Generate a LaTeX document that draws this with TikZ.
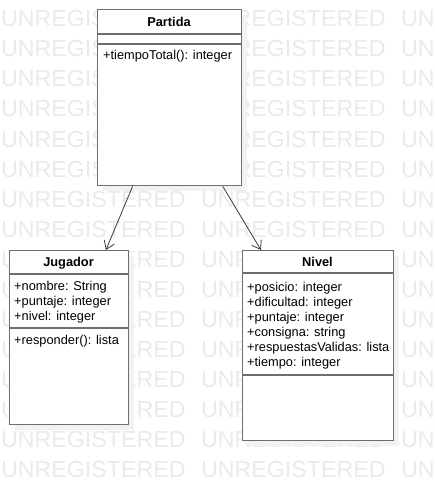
\documentclass[tikz,border=0pt]{standalone}
\usepackage{fontspec}
\setmainfont{Liberation Sans}
\usetikzlibrary{arrows.meta}
\definecolor{wmgray}{HTML}{EAEAEA}
\definecolor{boxline}{HTML}{6E6E6E}
\definecolor{shadowgray}{HTML}{F2F2F2}
\definecolor{arrline}{HTML}{3A3A3A}
\tikzset{
  umlbox/.style={draw=boxline, line width=1.4pt, fill=white, inner sep=0pt, anchor=north west},
  shadowbox/.style={fill=shadowgray, draw=none, inner sep=0pt, anchor=north west},
  sepline/.style={draw=boxline, line width=1.4pt},
  attr/.style={anchor=base west, inner sep=0pt, font=\fontsize{12.8}{15}\selectfont},
  ttl/.style={anchor=base, inner sep=0pt, font=\fontsize{12.8}{15}\selectfont\bfseries},
  wm/.style={anchor=base west, inner sep=0pt, text=wmgray, font=\fontsize{23.2}{28}\selectfont},
  arr/.style={draw=arrline, line width=0.8pt, -{Straight Barb[length=8pt,width=11pt,line width=0.8pt]}}
}
\begin{document}
\begin{tikzpicture}[x=1pt,y=-1pt]
\useasboundingbox (0,0) rectangle (434,481);
% watermark
\foreach \k in {0,...,15}{
  \node[wm] (wma\k) at (1, 27+30*\k) {UNREGISTERED};
  \node[wm] (wmb\k) at (201, 27+30*\k) {UNREGISTERED};
  \node[wm] (wmc\k) at (401, 27+30*\k) {UN};
}
% shadows
\node[shadowbox, minimum width=144pt, minimum height=176pt] (partidash) at (103,15) {};
\node[shadowbox, minimum width=119pt, minimum height=174pt] (jugadorsh) at (15,256) {};
\node[shadowbox, minimum width=151pt, minimum height=190pt] (nivelsh) at (248,256) {};
% boxes
\node[umlbox, minimum width=144pt, minimum height=176pt] (partida) at (97,9) {};
\node[umlbox, minimum width=119pt, minimum height=174pt] (jugador) at (9,250) {};
\node[umlbox, minimum width=151pt, minimum height=190pt] (nivel) at (242,250) {};
% separators
\draw[sepline] (97,34) -- (241,34);
\draw[sepline] (97,44) -- (241,44);
\draw[sepline] (9,274) -- (128,274);
\draw[sepline] (9,328) -- (128,328);
\draw[sepline] (242,273) -- (393,273);
\draw[sepline] (242,375) -- (393,375);
% texts
\node[ttl] (tp) at (169,26.5) {Partida};
\node[attr] (p1) at (103,60) {+tiempoTotal(): integer};
\node[ttl] (tj) at (68.5,266.5) {Jugador};
\node[attr] (j1) at (14,290) {+nombre: String};
\node[attr] (j2) at (14,305) {+puntaje: integer};
\node[attr] (j3) at (14,320) {+nivel: integer};
\node[attr] (j4) at (14,344) {+responder(): lista};
\node[ttl] (tn) at (317.5,266.5) {Nivel};
\node[attr] (n1) at (247,291) {+posicio: integer};
\node[attr] (n2) at (247,306) {+dificultad: integer};
\node[attr] (n3) at (247,321) {+puntaje: integer};
\node[attr] (n4) at (247,336) {+consigna: string};
\node[attr] (n5) at (247,351) {+respuestasValidas: lista};
\node[attr] (n6) at (247,366) {+tiempo: integer};
% connectors
\draw[arr] (partida) -- (jugador);
\draw[arr] (partida) -- (nivel);
\end{tikzpicture}
\end{document}
